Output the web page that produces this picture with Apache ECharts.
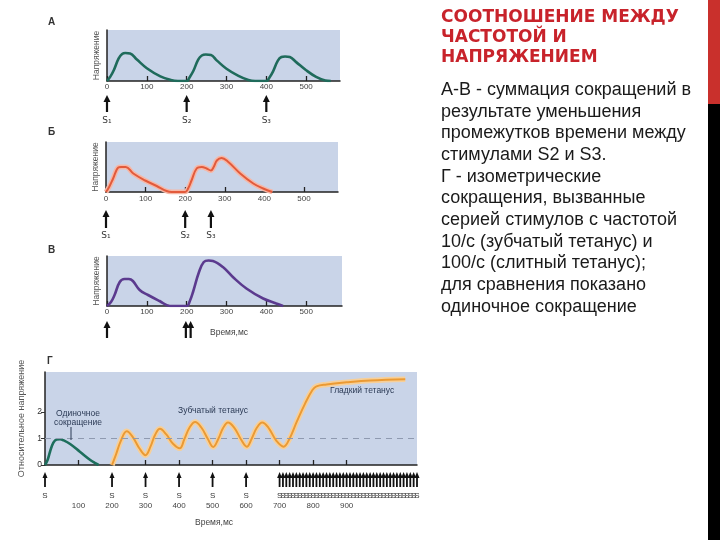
<!DOCTYPE html>
<html><head><meta charset="utf-8">
<script src="https://cdn.jsdelivr.net/npm/echarts@6/dist/echarts.min.js"></script>
<style>html,body{margin:0;padding:0;background:#fff}#c{width:720px;height:540px}</style>
</head><body><div id="c"></div>
<script>
// ---- data (time in ms, tension) ----
const curveA = [[0,0],[8,0.08],[17,0.21],[29,0.44],[38,0.53],[46,0.55],[58,0.54],[75,0.42],[100,0.25],[134,0.09],[160,0.02],[178,0],[200,0],
  [208,0.08],[217,0.2],[229,0.42],[238,0.5],[248,0.52],[261,0.51],[276,0.4],[300,0.24],[330,0.1],[355,0.02],[372,0],[400,0],
  [408,0.07],[417,0.19],[429,0.4],[438,0.47],[447,0.48],[459,0.47],[475,0.37],[500,0.21],[525,0.08],[548,0.01],[562,0]];
const curveB = [[0,0],[8,0.1],[18,0.27],[31,0.49],[38,0.5],[50,0.5],[69,0.37],[99,0.23],[128,0.12],[153,0.02],[166,0],[200,0],
  [208,0.08],[216,0.23],[229,0.47],[242,0.5],[254,0.47],[265,0.43],[272,0.5],[280,0.63],[292,0.68],[309,0.6],[339,0.37],[372,0.17],[397,0.07],[420,0]];
const curveV = [[0,0],[10,0.08],[19,0.22],[32,0.48],[44,0.54],[55,0.54],[65,0.5],[82,0.32],[103,0.22],[132,0.1],[158,0],[200,0],
  [208,0.1],[216,0.28],[231,0.68],[243,0.88],[255,0.91],[266,0.9],[291,0.78],[316,0.58],[350,0.35],[392,0.15],[425,0.05],[442,0]];
const twitchG = [[0,0],[8,0.2],[15,0.5],[25,0.84],[35,0.96],[45,0.97],[55,0.93],[75,0.79],[104,0.5],[134,0.2],[150,0.07],[160,0]];
const tetanusG = [[200,0],[212,0.4],[226,0.9],[244,1.27],[262,1.05],[282,0.62],[300,0.37],[315,0.7],[328,1.12],[343,1.36],[362,1.15],[382,0.8],[402,0.63],
  [416,0.98],[431,1.4],[448,1.62],[466,1.42],[486,0.98],[502,0.68],[517,0.98],[531,1.38],[546,1.6],[565,1.4],[585,0.96],[602,0.69],
  [617,1.0],[632,1.4],[648,1.6],[667,1.4],[690,0.92],[712,0.69],[730,1.0],[751,1.62],[776,2.31],[798,2.82],[810,2.96],[840,3.03],[900,3.11],[970,3.18],[1075,3.23]];
// stimuli
const stimA = [0,200,400];  const stimALabels = ['S₁','S₂','S₃'];
const stimB = [0,200,265];  const stimBLabels = ['S₁','S₂','S₃'];
const stimV = [0,198,210];
const stimG = [0,200,300,400,500,600,
  700,710,720,730,740,750,760,770,780,790,800,810,820,830,840,850,860,870,880,890,900,
  910,920,930,940,950,960,970,980,990,1000,1010,1020,1030,1040,1050,1060,1070,1080,1090,1100,1110];
// tick labels
const ticksABV = [0,100,200,300,400,500];
const ticksGx = [100,200,300,400,500,600,700,800,900];
const ticksGy = [0,1,2];

const FONT = 'Liberation Sans';
const BG = '#c9d4e8';
const axisCol = '#222';

function xAxisSmall(gi, max, labelMargin, ticks, hide0) {
  return {
    type:'value', gridIndex:gi, min:0, max:max,
    axisLine:{show:true, lineStyle:{color:axisCol, width:1.5}},
    axisTick:{show:true, inside:true, length:5, customValues:ticks, lineStyle:{color:axisCol, width:1.3}},
    axisLabel:{show:true, customValues:ticks, margin:labelMargin, fontSize:8, color:'#444', fontFamily:FONT},
    splitLine:{show:false}
  };
}
function yAxisSmall(gi, name) {
  return {
    type:'value', gridIndex:gi, min:0, max:1,
    axisLine:{show:true, onZero:false, lineStyle:{color:axisCol, width:1.5}},
    axisTick:{show:false}, axisLabel:{show:false}, splitLine:{show:false},
    name:name, nameLocation:'middle', nameGap:6, nameTextStyle:{fontSize:8.5, color:'#555', fontFamily:FONT}
  };
}

function arrowSeries(gi, stim, labels, cfg) {
  return {
    type:'custom', xAxisIndex:gi, yAxisIndex:gi, clip:false, silent:true, z:5,
    data: stim.map(t => [t, 0]),
    renderItem: function(params, api) {
      const p = api.coord([api.value(0), 0]);
      const x = p[0], y0 = p[1];
      const ch = [
        {type:'line', shape:{x1:x, y1:y0+cfg.tip+cfg.headH-1, x2:x, y2:y0+cfg.bottom}, style:{stroke:'#111', lineWidth:cfg.lw}},
        {type:'polygon', shape:{points:[[x, y0+cfg.tip],[x-cfg.hw, y0+cfg.tip+cfg.headH],[x+cfg.hw, y0+cfg.tip+cfg.headH]]}, style:{fill:'#111'}}
      ];
      if (labels && labels[params.dataIndex]) {
        ch.push({type:'text', x:x, y:y0+cfg.label, style:{text:labels[params.dataIndex], fontSize:cfg.fs, fill:'#333', fontFamily:cfg.ff||FONT, align:'center', verticalAlign:'middle'}});
      }
      return {type:'group', children:ch};
    }
  };
}

const gLabels = stimG.map(() => 'S');

const option = {
  backgroundColor:'#fff',
  animation:false,
  grid:[
    {left:107, top:30, width:233, height:51, show:true, backgroundColor:BG, borderWidth:0, outerBoundsMode:'none'},
    {left:106, top:142, width:232, height:50, show:true, backgroundColor:BG, borderWidth:0, outerBoundsMode:'none'},
    {left:107, top:256, width:235, height:50, show:true, backgroundColor:BG, borderWidth:0, outerBoundsMode:'none'},
    {left:45, top:372, width:372, height:93, show:true, backgroundColor:BG, borderWidth:0, outerBoundsMode:'none'}
  ],
  xAxis:[
    xAxisSmall(0, 585, 2, ticksABV),
    xAxisSmall(1, 586, 3, ticksABV),
    xAxisSmall(2, 590, 2, ticksABV),
    xAxisSmall(3, 1110, 37, ticksGx)
  ],
  yAxis:[
    yAxisSmall(0, 'Напряжение'),
    yAxisSmall(1, 'Напряжение'),
    yAxisSmall(2, 'Напряжение'),
    {type:'value', gridIndex:3, min:0, max:3.5,
     axisLine:{show:true, lineStyle:{color:axisCol, width:1.5}},
     axisTick:{show:true, length:4, customValues:ticksGy, lineStyle:{color:'#333'}},
     axisLabel:{show:true, customValues:ticksGy, fontSize:8.5, color:'#333', margin:3, fontFamily:FONT},
     splitLine:{show:false},
     name:'Относительное напряжение', nameLocation:'middle', nameGap:11, nameTextStyle:{fontSize:9, color:'#555', fontFamily:FONT}}
  ],
  series:[
    {type:'line', xAxisIndex:0, yAxisIndex:0, data:curveA, smooth:0.4, showSymbol:false, lineStyle:{color:'#1f6b5b', width:2.6}, z:3},
    {type:'line', xAxisIndex:1, yAxisIndex:1, data:curveB, smooth:0.4, showSymbol:false, lineStyle:{color:'#f6b7a6', width:5}, z:2},
    {type:'line', xAxisIndex:1, yAxisIndex:1, data:curveB, smooth:0.4, showSymbol:false, lineStyle:{color:'#e25a3b', width:2}, z:3},
    {type:'line', xAxisIndex:2, yAxisIndex:2, data:curveV, smooth:0.4, showSymbol:false, lineStyle:{color:'#5b3a8e', width:2.6}, z:3},
    {type:'line', xAxisIndex:3, yAxisIndex:3, data:tetanusG, smooth:0.4, showSymbol:false, lineStyle:{color:'#f7cf98', width:5.5}, z:2,
      markLine:{silent:true, symbol:['none','none'], label:{show:false}, lineStyle:{color:'#8f9ab0', type:[6,5], width:1},
        data:[{yAxis:1}]}},
    {type:'line', xAxisIndex:3, yAxisIndex:3, data:tetanusG, smooth:0.4, showSymbol:false, lineStyle:{color:'#eb9a33', width:2}, z:3},
    {type:'line', xAxisIndex:3, yAxisIndex:3, data:twitchG, smooth:0.4, showSymbol:false, lineStyle:{color:'#1d6e5c', width:2.6}, z:3},
    arrowSeries(0, stimA, stimALabels, {tip:14, bottom:31, label:40, hw:3.5, headH:7, lw:2.2, fs:9, ff:'DejaVu Sans'}),
    arrowSeries(1, stimB, stimBLabels, {tip:18, bottom:36, label:44, hw:3.5, headH:7, lw:2.2, fs:9, ff:'DejaVu Sans'}),
    arrowSeries(2, stimV, null, {tip:15, bottom:32, label:40, hw:3.5, headH:7, lw:2.2, fs:9}),
    arrowSeries(3, stimG, gLabels, {tip:7, bottom:22, label:31, hw:2.5, headH:6, lw:1.8, fs:8})
  ],
  graphic:[
    {type:'text', left:48, top:17, style:{text:'А', fontSize:10, fontWeight:'bold', fill:'#333', fontFamily:FONT}},
    {type:'text', left:48, top:127, style:{text:'Б', fontSize:10, fontWeight:'bold', fill:'#333', fontFamily:FONT}},
    {type:'text', left:48, top:245, style:{text:'В', fontSize:10, fontWeight:'bold', fill:'#333', fontFamily:FONT}},
    {type:'text', left:47, top:356, style:{text:'Г', fontSize:10, fontWeight:'bold', fill:'#333', fontFamily:FONT}},
    {type:'text', left:210, top:328, style:{text:'Время,мс', fontSize:8.5, fill:'#444', fontFamily:FONT}},
    {type:'text', left:195, top:518, style:{text:'Время,мс', fontSize:8.5, fill:'#444', fontFamily:FONT}},
    {type:'text', x:78, y:418, z:10, style:{text:'Одиночное\nсокращение', fontSize:8.5, lineHeight:9, fill:'#2b3a55', fontFamily:FONT, align:'center', verticalAlign:'middle'}},
    {type:'line', z:10, shape:{x1:71, y1:427, x2:71, y2:440}, style:{stroke:'#2b3a55', lineWidth:1}},
    {type:'text', left:178, top:406, z:10, style:{text:'Зубчатый тетанус', fontSize:8.5, fill:'#2b3a55', fontFamily:FONT}},
    {type:'text', left:330, top:386, z:10, style:{text:'Гладкий тетанус', fontSize:8.5, fill:'#2b3a55', fontFamily:FONT}},
    // right side text
    {type:'text', left:441, top:7, style:{text:'СООТНОШЕНИЕ МЕЖДУ\nЧАСТОТОЙ И\nНАПРЯЖЕНИЕМ', fontSize:17, lineHeight:20.3, fontWeight:'bold', fill:'#c8232b', fontFamily:'DejaVu Sans'}},
    {type:'text', left:441, top:79, style:{text:'А-В - суммация сокращений в\nрезультате уменьшения\nпромежутков времени между\nстимулами S2 и S3.\nГ - изометрические\nсокращения, вызванные\nсерией стимулов с частотой\n10/с (зубчатый тетанус) и\n100/с (слитный тетанус);\nдля сравнения показано\nодиночное сокращение', fontSize:18, lineHeight:21.7, fill:'#1a1a1a', fontFamily:FONT}},
    {type:'rect', shape:{x:708, y:0, width:12, height:104}, style:{fill:'#c9302c'}},
    {type:'rect', shape:{x:708, y:104, width:12, height:436}, style:{fill:'#000'}}
  ]
};
const chart = echarts.init(document.getElementById('c'));
chart.setOption(option);
</script></body></html>
